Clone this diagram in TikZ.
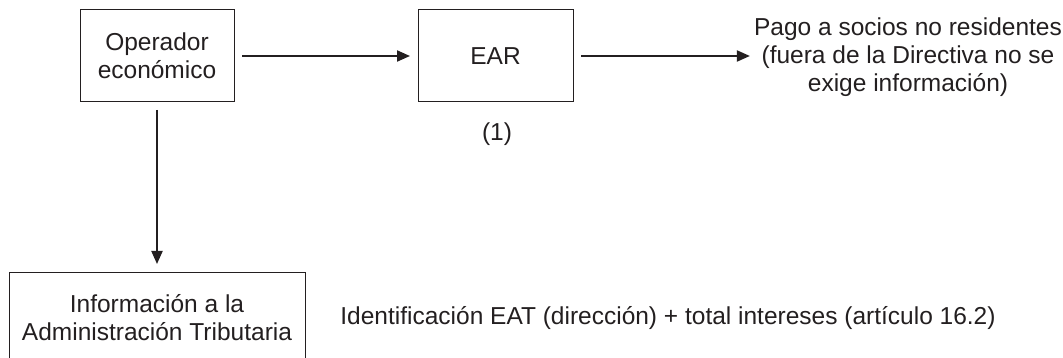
\documentclass[tikz,border=0pt]{standalone}
\usepackage{fontspec}
\setmainfont{Liberation Sans}
\usepackage{xcolor}
\usepackage{tikz}
\usetikzlibrary{arrows.meta, positioning}
\definecolor{inkgray}{RGB}{35,31,32}

\tikzset{
  box/.style={draw=inkgray, line width=1pt, align=center, inner sep=0pt, outer sep=8pt},
  flow/.style={draw=inkgray, line width=2pt, -{Triangle[length=13pt,width=11pt]}},
}

\begin{document}
\begin{tikzpicture}[x=1pt,y=-1pt,font=\fontsize{24.5}{28}\selectfont,text=inkgray]
\useasboundingbox (0,0) rectangle (1063,358);
\clip (0,0) rectangle (1063,358);

% Operator box
\node[box,minimum width=154pt,minimum height=92pt] (op) at (157,56) {Operador\\económico};

% EAR box and its note
\node[box,minimum width=155pt,minimum height=92pt] (ear) at (495.5,56) {EAR};
\node (nota) at (497,134) {(1)};

% Payment to partners
\node[align=center,inner sep=4pt] (pago) at (908,57) {Pago a socios no residentes\\(fuera de la Directiva no se\\exige información)};

% Tax administration box
\node[box,minimum width=296pt,minimum height=92pt] (info) at (157,318) {Información a la\\Administración Tributaria};
\node (ident) at (668,318) {Identificación EAT (dirección) + total intereses (artículo 16.2)};

% Arrows
\draw[flow] (op) -- (ear);
\draw[flow] (ear.east) -- (ear.east -| pago.west);
\draw[flow] (op.south) -- (op.south |- info.north);
\end{tikzpicture}
\end{document}
